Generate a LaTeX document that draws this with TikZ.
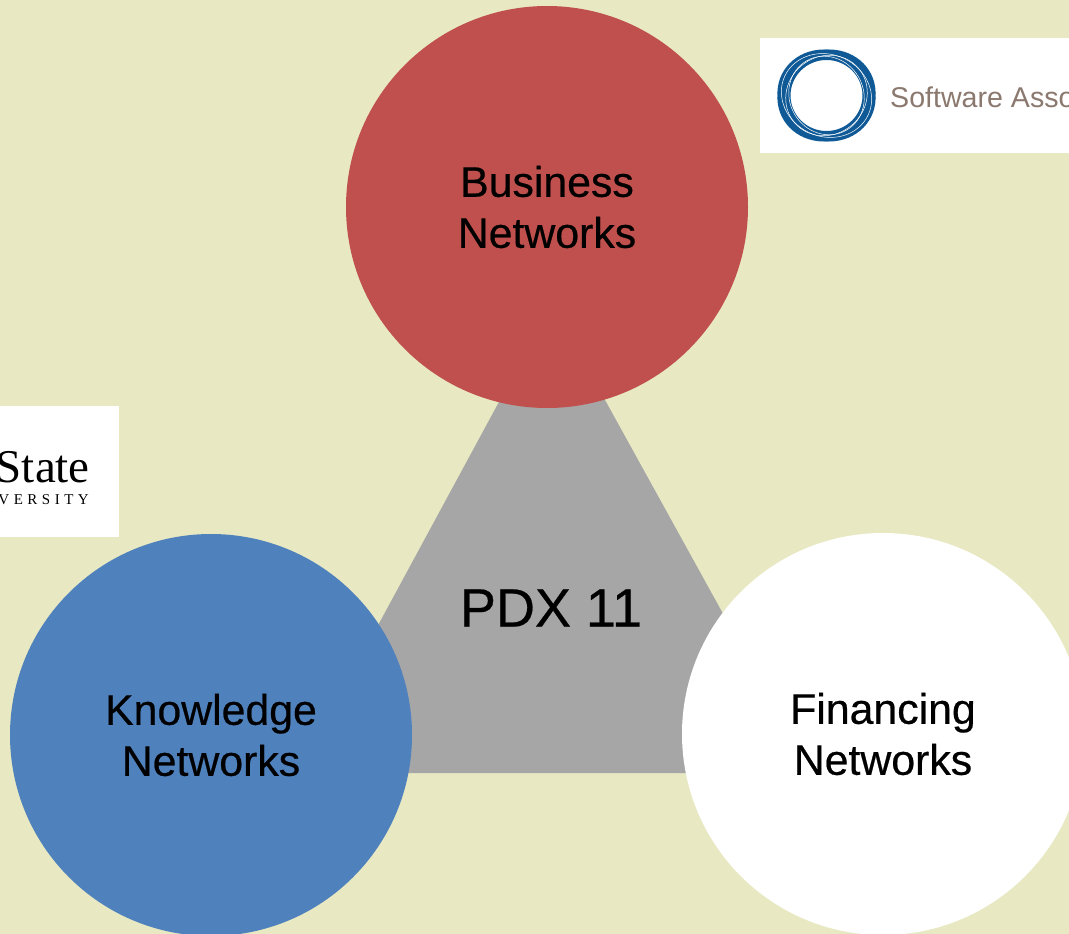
\documentclass[tikz,border=0pt]{standalone}
\usepackage{fontspec}
\setmainfont{Liberation Sans}
\newfontfamily\netfont[FakeBold=0.5]{Liberation Sans}
\newfontfamily\logoserif{Liberation Serif}
\newfontfamily\logospaced[LetterSpace=30]{Liberation Serif}
\definecolor{pagebg}{HTML}{E8E9C2}
\definecolor{netred}{HTML}{C0504D}
\definecolor{netblue}{HTML}{4F81BD}
\definecolor{hubgray}{HTML}{A6A6A6}
\definecolor{ringblue}{HTML}{0F5A96}
\definecolor{logotext}{HTML}{8B786E}
\begin{document}
\begin{tikzpicture}[x=1pt,y=-1pt,
  net/.style={circle,minimum size=402pt,inner sep=0pt,align=center,
     font=\netfont\fontsize{42.8}{51}\selectfont}]
\clip (0,0) rectangle (1069,934);
\fill[pagebg] (0,0) rectangle (1069,934);
\fill[hubgray] (552,304) -- (298,773) -- (811,773) -- cycle;
\node (hub) at (551,608) {\netfont\fontsize{54}{60}\selectfont PDX 11};
\foreach \n/\x/\y/\c/\t in {b/547/207/netred/{Business\\Networks},
   k/211/735/netblue/{Knowledge\\Networks},
   f/883/734/white/{Financing\\Networks}}
   \node[net,fill=\c] (\n) at (\x,\y) {\t};
% logos
\fill[white] (760,38) rectangle (1069,153);
\fill[white] (0,406) rectangle (119,537);
\foreach \a/\rx/\ry in {-20/47/43,20/47/43,-10/43/41,30/43/41,0/38.5/38}
   \draw[ringblue,line width=5pt,rotate around={\a:(826.5,95.5)}] (826.5,95.5) ellipse ({\rx} and {\ry});
\foreach \a/\rx/\ry in {-25/46/41,40/42/39,-60/40/37}
   \draw[white,line width=0.5pt,rotate around={\a:(826.5,95.5)}] (826.5,95.5) ellipse ({\rx} and {\ry});
\node[anchor=base west,inner sep=0pt,text=logotext,font=\fontsize{28.6}{30}\selectfont] (sa) at (890,107) {Software Assoc};
\node[anchor=base east,inner sep=0pt,font=\logoserif\fontsize{47}{50}\selectfont] (st) at (90,482) {State};
\node[anchor=base east,inner sep=0pt,font=\logospaced\fontsize{15}{16}\selectfont] (un) at (89,504) {VERSITY};
\end{tikzpicture}
\end{document}
